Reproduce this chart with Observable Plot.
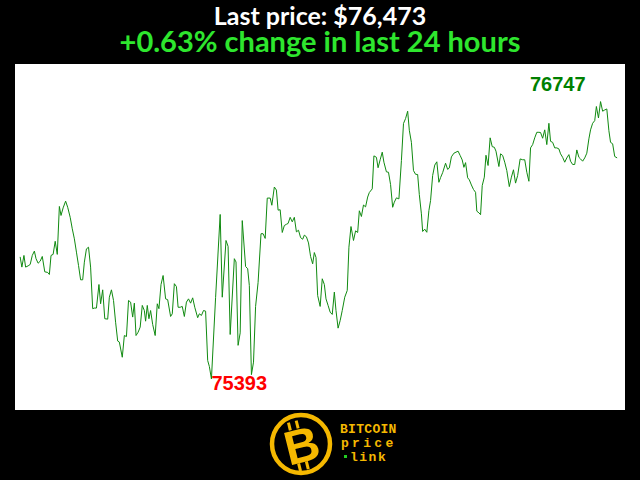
<!DOCTYPE html>
<html><head><meta charset="utf-8">
<script src="https://cdn.jsdelivr.net/npm/d3@7"></script>
<script src="https://cdn.jsdelivr.net/npm/@observablehq/plot@0.6"></script>
<style>
html,body{margin:0;padding:0;background:#000;width:640px;height:480px;overflow:hidden;position:relative;}
#title{position:absolute;left:0;top:1.6px;width:640px;height:26px;text-align:center;color:#fff;font-weight:bold;font-family:Lato,sans-serif;font-size:25px;line-height:26px;white-space:nowrap;}
#subtitle{position:absolute;left:0;top:28px;width:640px;height:26px;text-align:center;color:#2ee62e;font-weight:bold;font-family:Lato,sans-serif;font-size:29px;line-height:26px;white-space:nowrap;}
#chart{position:absolute;left:15px;top:64px;}
#logo{position:absolute;left:0;top:410px;}
</style></head><body>
<div id="title"></div>
<div id="subtitle"></div>
<div id="chart"></div>
<svg id="logo" width="640" height="70" viewBox="0 410 640 70">
  <circle cx="301" cy="444" r="29" fill="#000" stroke="#f5b800" stroke-width="4.5"/>
  <g transform="translate(302,446) rotate(-14)">
    <rect x="-9" y="-26" width="3" height="8" fill="#f5b800"/>
    <rect x="-1" y="-26" width="3" height="8" fill="#f5b800"/>
    <rect x="-9" y="16" width="3" height="8" fill="#f5b800"/>
    <rect x="-1" y="16" width="3" height="8" fill="#f5b800"/>
    <text x="0" y="16" text-anchor="middle" font-family="Liberation Sans, Arial" font-weight="bold" font-size="48" fill="#f5b800">B</text>
  </g>
  <text x="340" y="433" font-family="Liberation Mono, monospace" font-weight="bold" font-size="13" letter-spacing="0.3" fill="#f5b800">BITCOIN</text>
  <text x="341" y="447" font-family="Liberation Mono, monospace" font-weight="bold" font-size="13" letter-spacing="3.3" fill="#f5b800">price</text>
  <rect x="344" y="455" width="3" height="3" fill="#22cc22"/>
  <text x="350" y="461" font-family="Liberation Mono, monospace" font-weight="bold" font-size="13" letter-spacing="1.5" fill="#f5b800">link</text>
</svg>
<script>
const lastPrice = 76473;
const changePct = "+0.63%";
const titleText = "Last price: $76,473";
const subtitleText = "+0.63% change in last 24 hours";

// minutes since start of the 24h window
const minutes = [0,4,9,13,19,24,29,34,38,43,48,53,59,66,70,74,79,84,89,94,98,103,109,114,120,125,130,135,140,145,150,154,159,164,169,174,178,183,189,193,198,203,210,214,219,224,229,234,238,245,250,255,260,265,270,274,278,283,288,293,298,301,305,309,313,318,324,329,333,338,343,349,354,361,365,370,375,379,384,389,394,399,404,409,414,419,426,430,435,440,445,450,454,459,469,480,485,494,499,504,514,518,523,528,533,541,546,550,555,560,565,571,578,583,588,593,600,604,610,615,619,624,629,634,639,643,648,653,658,663,668,673,678,682,687,692,697,702,706,710,714,720,725,730,734,739,744,749,754,758,763,768,773,779,785,789,794,800,805,810,814,819,824,829,834,838,845,849,855,859,864,869,873,879,884,889,894,898,903,909,915,920,925,930,934,939,944,949,954,958,963,966,971,976,981,985,990,995,1000,1005,1009,1014,1021,1026,1030,1035,1041,1046,1051,1056,1061,1065,1069,1074,1078,1083,1088,1093,1096,1101,1105,1109,1114,1118,1123,1128,1133,1138,1142,1149,1153,1158,1163,1168,1174,1179,1184,1189,1194,1200,1206,1211,1216,1221,1225,1230,1235,1240,1245,1249,1254,1259,1264,1269,1273,1278,1283,1288,1293,1297,1302,1307,1312,1317,1321,1326,1331,1336,1341,1345,1350,1355,1360,1365,1369,1374,1379,1383,1388,1393,1398,1403,1408,1413,1417,1422,1427,1432];

// BTC price (USD)
const prices = [75987,75939,75996,75939,75945,75952,75996,76017,75980,75958,75968,75991,75916,75913,75903,75996,76001,76065,76001,76235,76191,76228,76261,76231,76182,76126,76077,76012,75947,75877,75877,75963,76028,76036,75939,75736,75739,75739,75854,75760,75828,75687,75685,75792,75828,75776,75670,75578,75573,75499,75605,75600,75776,75768,75695,75763,75605,75621,75646,75752,75727,75675,75752,75687,75727,75659,75605,75760,75736,75854,75898,75784,75780,75698,75711,75858,75844,75743,75743,75747,75698,75768,75784,75763,75789,75743,75692,75711,75703,75727,75724,75483,75454,75393,75791,76196,75792,76069,76040,75610,75980,75964,75557,75618,76166,75942,75931,75849,75414,75475,75747,75864,76102,76102,76079,76276,76276,76241,76330,76315,76217,76219,76108,76142,76148,76152,76182,76160,76182,76111,76119,76083,76075,76095,76087,76057,75991,75955,76010,75986,75800,75747,75882,75854,75784,75752,75719,75708,75817,75727,75641,75678,75727,75792,75825,76036,76137,76069,76116,76108,76214,76186,76242,76233,76281,76303,76321,76482,76475,76424,76463,76500,76451,76404,76402,76342,76231,76256,76277,76272,76459,76640,76664,76700,76607,76548,76410,76392,76391,76293,76199,76113,76124,76109,76215,76264,76386,76437,76453,76353,76376,76400,76446,76416,76423,76477,76495,76500,76505,76484,76462,76426,76449,76375,76365,76340,76318,76304,76212,76204,76195,76337,76378,76485,76435,76570,76527,76524,76505,76430,76492,76484,76451,76410,76332,76378,76414,76349,76386,76467,76463,76463,76402,76358,76521,76537,76570,76597,76597,76596,76568,76609,76537,76641,76553,76548,76521,76521,76516,76492,76475,76451,76472,76488,76456,76440,76440,76511,76475,76467,76456,76472,76495,76565,76609,76641,76654,76723,76667,76747,76700,76706,76711,76605,76548,76541,76479,76473];

document.getElementById("title").textContent = titleText;
document.getElementById("subtitle").textContent = subtitleText;

const data = minutes.map((m, i) => ({minute: m, price: prices[i]}));
const iMin = d3.minIndex(prices), iMax = d3.maxIndex(prices);

const chart = Plot.plot({
  width: 610, height: 346,
  marginLeft: 4.7, marginRight: 8.7, marginTop: 0, marginBottom: 0,
  style: {background: "#fff", overflow: "visible"},
  x: {domain: [0, 1432], axis: null},
  y: {domain: [75239, 76928], axis: null},
  marks: [
    Plot.line(data, {x: "minute", y: "price", stroke: "#108a10", strokeWidth: 1}),
    Plot.text([data[iMin]], {x: "minute", y: "price", text: d => String(d.price), fill: "#ff0000",
      textAnchor: "start", dy: 5, fontSize: 20, fontWeight: "bold", fontFamily: "Liberation Sans, Arial, sans-serif"}),
    Plot.text([data[iMax]], {x: "minute", y: "price", text: d => String(d.price), fill: "#008000",
      textAnchor: "end", dx: -15, dy: -17, fontSize: 20, fontWeight: "bold", fontFamily: "Liberation Sans, Arial, sans-serif"})
  ]
});
document.getElementById("chart").appendChild(chart);
</script>
</body></html>
